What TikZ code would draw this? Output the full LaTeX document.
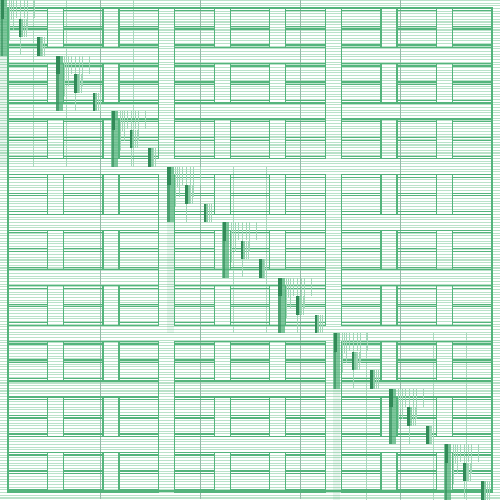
\documentclass[tikz,border=0pt]{standalone}
\definecolor{gmain}{RGB}{84,180,124}
\definecolor{gdark}{RGB}{50,138,88}
\definecolor{glight}{RGB}{186,226,201}
\definecolor{ggray}{RGB}{150,185,168}
\begin{document}
\begin{tikzpicture}[x=1pt,y=-1pt,
  thickline/.style={draw=gmain,line width=1.3pt},
  stripe/.style={draw=glight,line width=1.05pt},
  vlight/.style={draw=gmain!50,line width=0.8pt},
  vgray/.style={draw=ggray,line width=0.6pt},
  comb/.style={draw=gmain!55,line width=0.7pt}]
\useasboundingbox (0,0) rectangle (500,499);
\fill[white] (0,0) rectangle (500,499);
% light horizontal stripes
\foreach \i in {0,...,186} {
  \draw[stripe] (0,\i*2.674+0.6) -- (500,\i*2.674+0.6);
}
% light verticals inside diagonal blocks
\foreach \I in {0,1,2} {
  \foreach \m in {1,2,3,4} {
    \draw[vlight] (\I*166.667+\m*33.333,\I*166.667) -- ++(0,166.667);
  }
}
% gray verticals
\foreach \x in {100,200,300,400} {
  \draw[vgray] (\x,0) -- (\x,499);
}
% level-0 frame
\draw[thickline] (8,8) rectangle (492,491);
% level-1 frames
\foreach \I in {0,1,2} {
  \foreach \J in {0,1,2} {
    \draw[thickline] (\J*166.667+8,\I*166.667+8) rectangle ++(150.667,150.667);
  }
}
% level-2 cells
\foreach \i in {0,...,8} {
  \foreach \J in {0,1,2} {
    \draw[thickline] (\J*166.667+8,\i*55.556+8) -- ++(150.667,0);
    \draw[thickline] (\J*166.667+8,\i*55.556+47.556) -- ++(150.667,0);
  }
  \foreach \j in {0,...,8} {
    \draw[thickline] (\j*55.556+8,\i*55.556+8) rectangle ++(39.556,39.556);
    \foreach \o in {10.52,26.52,29.04,45.04} {
      \draw[thickline] (\j*55.556+8,\i*55.556+\o) -- ++(39.556,0);
    }
  }
}
% diagonal bars
\foreach \k in {0,...,8} {
  \pgfmathsetmacro{\z}{\k*55.556}
  % comb to the right of the big bar
  \foreach \c/\h in {9/40,11/20,13/30,16/18,20/55,24/18,27/30,34/18} {
    \draw[comb] (\z+\c,\z) -- ++(0,\h);
  }
  \fill[gmain,opacity=0.75] (\z,\z) rectangle ++(7,55.556);
  \fill[gdark] (\z+0.5,\z) rectangle ++(3.5,18.519);
  \fill[gdark,opacity=0.6] (\z+0.5,\z+18.519) rectangle ++(2.5,37);
  \foreach \m in {1,2} {
    \foreach \c in {4,5.5,7.5} {
      \draw[comb] (\z+\m*18.519+\c,\z+\m*18.519) -- ++(0,18.519);
    }
    \fill[gmain!70] (\z+\m*18.519,\z+\m*18.519) rectangle ++(4.5,18.519);
    \fill[gdark] (\z+\m*18.519,\z+\m*18.519) rectangle ++(2.6,18.519);
  }
}
% light continuation of big bars in level-1 diagonal blocks
\foreach \I in {0,1,2} {
  \fill[gmain,opacity=0.12] (\I*166.667,\I*166.667+55.556) rectangle ++(7,111.111);
}
\end{tikzpicture}
\end{document}
